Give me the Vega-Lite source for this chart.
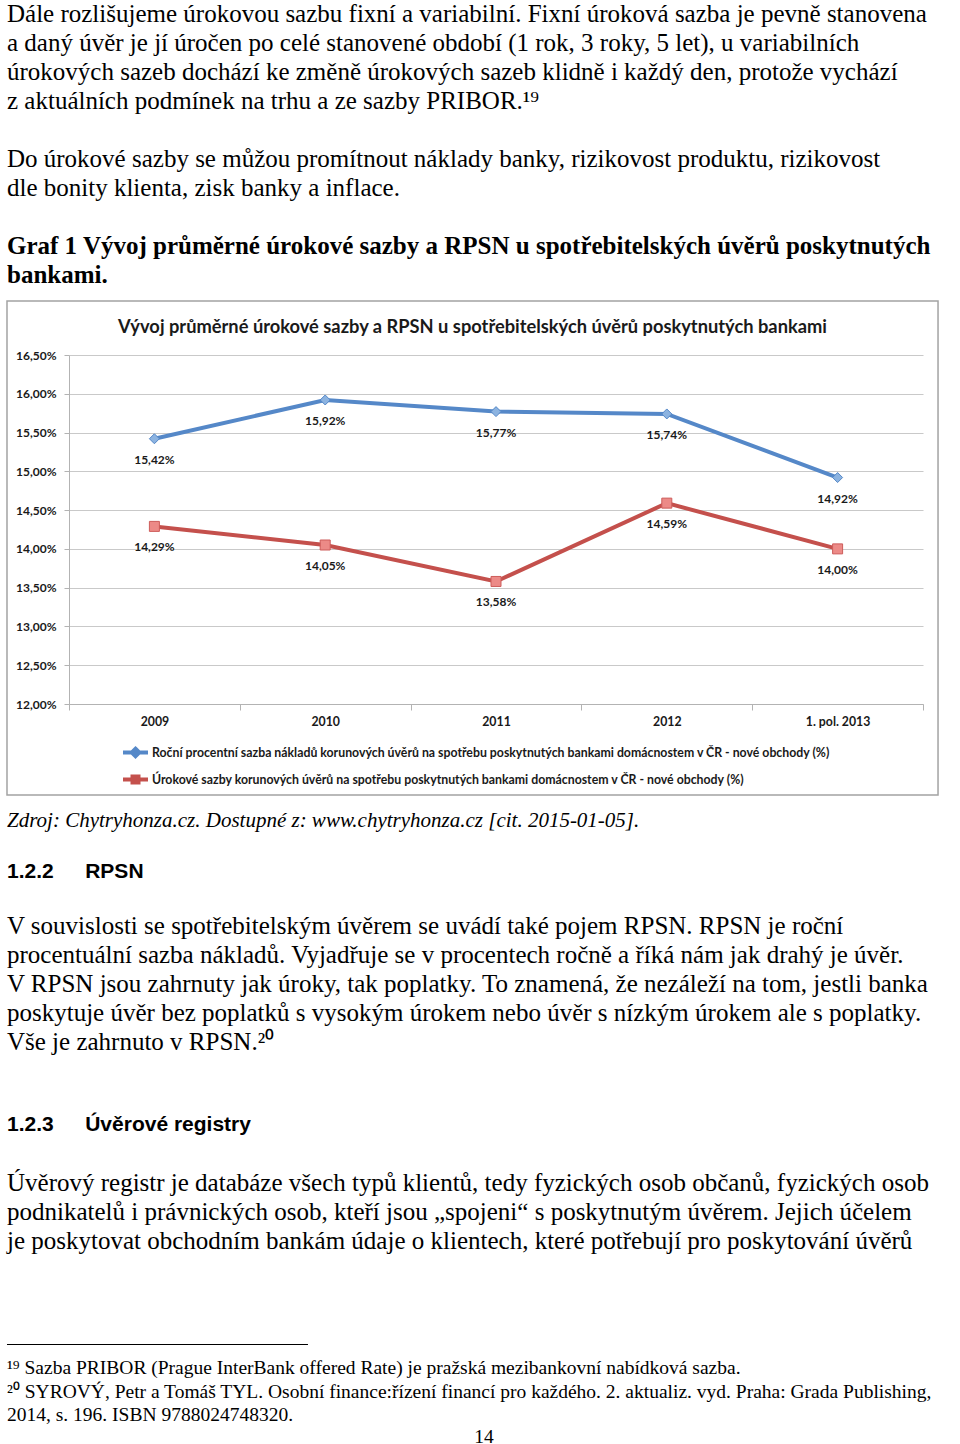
{
  "$schema": "https://vega.github.io/schema/vega-lite/v6.json",
  "padding": {"left": 6, "top": 1, "right": 0, "bottom": 0},
  "spacing": 0,
  "columns": 1,
  "align": "none",
  "background": "#ffffff",
  "resolve": {"scale": {"color": "independent", "fill": "independent", "stroke": "independent", "shape": "independent"}},
  "config": {
    "view": {"stroke": null},
    "locale": {"number": {"decimal": ",", "thousands": "\u00a0", "grouping": [3], "currency": ["", "\u00a0Kč"]}}
  },
  "datasets": {
    "top": [
      {"row": 0, "kind": "body", "text": "Dále rozlišujeme úrokovou sazbu fixní a variabilní. Fixní úroková sazba je pevně stanovena"},
      {"row": 1, "kind": "body", "text": "a daný úvěr je jí úročen po celé stanovené období (1 rok, 3 roky, 5 let), u variabilních"},
      {"row": 2, "kind": "body", "text": "úrokových sazeb dochází ke změně úrokových sazeb klidně i každý den, protože vychází"},
      {"row": 3, "kind": "body", "text": "z aktuálních podmínek na trhu a ze sazby PRIBOR.¹⁹"},
      {"row": 5, "kind": "body", "text": "Do úrokové sazby se můžou promítnout náklady banky, rizikovost produktu, rizikovost"},
      {"row": 6, "kind": "body", "text": "dle bonity klienta, zisk banky a inflace."},
      {"row": 8, "kind": "caption", "text": "Graf 1 Vývoj průměrné úrokové sazby a RPSN u spotřebitelských úvěrů poskytnutých"},
      {"row": 9, "kind": "caption", "text": "bankami."}
    ],
    "rates": [
      {"idx": 0, "period": "2009", "series": "Roční procentní sazba nákladů korunových úvěrů na spotřebu poskytnutých bankami domácnostem v ČR - nové obchody (%)", "rate": 0.1542},
      {"idx": 1, "period": "2010", "series": "Roční procentní sazba nákladů korunových úvěrů na spotřebu poskytnutých bankami domácnostem v ČR - nové obchody (%)", "rate": 0.1592},
      {"idx": 2, "period": "2011", "series": "Roční procentní sazba nákladů korunových úvěrů na spotřebu poskytnutých bankami domácnostem v ČR - nové obchody (%)", "rate": 0.1577},
      {"idx": 3, "period": "2012", "series": "Roční procentní sazba nákladů korunových úvěrů na spotřebu poskytnutých bankami domácnostem v ČR - nové obchody (%)", "rate": 0.1574},
      {"idx": 4, "period": "1. pol. 2013", "series": "Roční procentní sazba nákladů korunových úvěrů na spotřebu poskytnutých bankami domácnostem v ČR - nové obchody (%)", "rate": 0.1492},
      {"idx": 0, "period": "2009", "series": "Úrokové sazby korunových úvěrů na spotřebu poskytnutých bankami domácnostem v ČR - nové obchody (%)", "rate": 0.1429},
      {"idx": 1, "period": "2010", "series": "Úrokové sazby korunových úvěrů na spotřebu poskytnutých bankami domácnostem v ČR - nové obchody (%)", "rate": 0.1405},
      {"idx": 2, "period": "2011", "series": "Úrokové sazby korunových úvěrů na spotřebu poskytnutých bankami domácnostem v ČR - nové obchody (%)", "rate": 0.1358},
      {"idx": 3, "period": "2012", "series": "Úrokové sazby korunových úvěrů na spotřebu poskytnutých bankami domácnostem v ČR - nové obchody (%)", "rate": 0.1459},
      {"idx": 4, "period": "1. pol. 2013", "series": "Úrokové sazby korunových úvěrů na spotřebu poskytnutých bankami domácnostem v ČR - nové obchody (%)", "rate": 0.1400}
    ],
    "bottom": [
      {"row": 0, "kind": "source", "text": "Zdroj: Chytryhonza.cz. Dostupné z: www.chytryhonza.cz [cit. 2015-01-05]."},
      {"row": 1.759, "kind": "heading", "text": "1.2.2\u2003\u2002RPSN"},
      {"row": 3.621, "kind": "body", "text": "V souvislosti se spotřebitelským úvěrem se uvádí také pojem RPSN. RPSN je roční"},
      {"row": 4.621, "kind": "body", "text": "procentuální sazba nákladů. Vyjadřuje se v procentech ročně a říká nám jak drahý je úvěr."},
      {"row": 5.621, "kind": "body", "text": "V RPSN jsou zahrnuty jak úroky, tak poplatky. To znamená, že nezáleží na tom, jestli banka"},
      {"row": 6.621, "kind": "body", "text": "poskytuje úvěr bez poplatků s vysokým úrokem nebo úvěr s nízkým úrokem ale s poplatky."},
      {"row": 7.621, "kind": "body", "text": "Vše je zahrnuto v RPSN.²⁰"},
      {"row": 10.483, "kind": "heading", "text": "1.2.3\u2003\u2002Úvěrové registry"},
      {"row": 12.483, "kind": "body", "text": "Úvěrový registr je databáze všech typů klientů, tedy fyzických osob občanů, fyzických osob"},
      {"row": 13.483, "kind": "body", "text": "podnikatelů i právnických osob, kteří jsou „spojeni“ s poskytnutým úvěrem. Jejich účelem"},
      {"row": 14.483, "kind": "body", "text": "je poskytovat obchodním bankám údaje o klientech, které potřebují pro poskytování úvěrů"},
      {"row": 18.069, "kind": "separator", "text": ""},
      {"row": 18.862, "kind": "footnote", "text": "¹⁹ Sazba PRIBOR (Prague InterBank offered Rate) je pražská mezibankovní nabídková sazba."},
      {"row": 19.69, "kind": "footnote", "text": "²⁰ SYROVÝ, Petr a Tomáš TYL. Osobní finance:řízení financí pro každého. 2. aktualiz. vyd. Praha: Grada Publishing,"},
      {"row": 20.483, "kind": "footnote", "text": "2014, s. 196. ISBN 9788024748320."},
      {"row": 21.25, "kind": "page", "text": "14"}
    ]
  },
  "concat": [
    {
      "width": 892,
      "height": 296.5,
      "data": {"name": "top"},
      "encoding": {
        "y": {"field": "row", "type": "quantitative", "scale": {"domain": [-0.3793, 9.8448], "reverse": true}, "axis": null},
        "x": {"datum": 0, "type": "quantitative", "scale": {"domain": [0.065, 1]}, "axis": null},
        "text": {"field": "text"}
      },
      "layer": [
        {"transform": [{"filter": "datum.kind === 'body'"}], "mark": {"type": "text", "align": "left", "baseline": "middle", "font": "Liberation Serif", "fontSize": 25, "fill": "#000000"}},
        {"transform": [{"filter": "datum.kind === 'caption'"}], "mark": {"type": "text", "align": "left", "baseline": "middle", "font": "Liberation Serif", "fontSize": 25, "fontWeight": "bold", "fill": "#000000"}}
      ]
    },
    {
      "width": 854,
      "height": 349,
      "title": {"text": "Vývoj průměrné úrokové sazby a RPSN u spotřebitelských úvěrů poskytnutých bankami", "font": "Lato", "fontSize": 18.3, "fontWeight": "bold", "color": "#1a1a1a", "frame": "bounds", "anchor": "middle", "offset": -37},
      "layer": [
        {
          "data": {"values": [{"frame": "chart"}]},
          "mark": {"type": "rect", "clip": false, "fillOpacity": 0, "fill": "#ffffff", "stroke": "#a3a3a3", "strokeWidth": 1.5, "strokeOpacity": 1},
          "encoding": {
            "x": {"datum": -0.863, "type": "quantitative", "title": null, "scale": {"domain": [-0.5, 4.5], "nice": false, "zero": false},
              "axis": {"values": [-0.5, 0, 0.5, 1, 1.5, 2, 2.5, 3, 3.5, 4, 4.5], "labelExpr": "datum.value % 1 === 0 ? ['2009','2010','2011','2012','1. pol. 2013'][datum.value] : ''", "title": null, "grid": false, "domainColor": "#b3b3b3", "tickColor": "#b3b3b3", "tickSize": 6, "tickOpacity": {"condition": {"test": "datum.value % 1 === 0", "value": 0}, "value": 1}, "labelPadding": 5, "labelFont": "Lato", "labelFontWeight": "bold", "labelFontSize": 12.3, "labelColor": "#1a1a1a", "labelOverlap": false, "labelFlush": false, "labelBound": false}},
            "x2": {"datum": 4.588},
            "y": {"datum": 0.171963, "type": "quantitative", "title": null, "scale": {"domain": [0.12, 0.165], "nice": false, "zero": false},
              "axis": {"values": [0.12, 0.125, 0.13, 0.135, 0.14, 0.145, 0.15, 0.155, 0.16, 0.165], "format": ".2%", "title": null, "grid": true, "gridColor": "#c9c9c9", "domainColor": "#b3b3b3", "tickColor": "#b3b3b3", "tickSize": 5, "labelPadding": 8, "labelFont": "Lato", "labelFontWeight": "bold", "labelFontSize": 12, "labelColor": "#1a1a1a", "labelOverlap": false}},
            "y2": {"datum": 0.108267}
          }
        },
        {
          "data": {"name": "rates"},
          "encoding": {
            "x": {"field": "idx", "type": "quantitative", "title": null, "scale": {"domain": [-0.5, 4.5], "nice": false, "zero": false},
              "axis": {"values": [-0.5, 0, 0.5, 1, 1.5, 2, 2.5, 3, 3.5, 4, 4.5], "labelExpr": "datum.value % 1 === 0 ? ['2009','2010','2011','2012','1. pol. 2013'][datum.value] : ''", "title": null, "grid": false, "domainColor": "#b3b3b3", "tickColor": "#b3b3b3", "tickSize": 6, "tickOpacity": {"condition": {"test": "datum.value % 1 === 0", "value": 0}, "value": 1}, "labelPadding": 5, "labelFont": "Lato", "labelFontWeight": "bold", "labelFontSize": 12.3, "labelColor": "#1a1a1a", "labelOverlap": false, "labelFlush": false, "labelBound": false}},
            "y": {"field": "rate", "type": "quantitative", "title": null, "scale": {"domain": [0.12, 0.165], "nice": false, "zero": false},
              "axis": {"values": [0.12, 0.125, 0.13, 0.135, 0.14, 0.145, 0.15, 0.155, 0.16, 0.165], "format": ".2%", "title": null, "grid": true, "gridColor": "#c9c9c9", "domainColor": "#b3b3b3", "tickColor": "#b3b3b3", "tickSize": 5, "labelPadding": 8, "labelFont": "Lato", "labelFontWeight": "bold", "labelFontSize": 12, "labelColor": "#1a1a1a", "labelOverlap": false}}
          },
          "layer": [
            {
              "mark": {"type": "line", "strokeWidth": 4},
              "encoding": {
                "color": {"field": "series", "type": "nominal",
                  "scale": {"domain": ["Roční procentní sazba nákladů korunových úvěrů na spotřebu poskytnutých bankami domácnostem v ČR - nové obchody (%)", "Úrokové sazby korunových úvěrů na spotřebu poskytnutých bankami domácnostem v ČR - nové obchody (%)"], "range": ["#5588c8", "#c4504c"]},
                  "legend": {"orient": "none", "legendX": 52, "legendY": 383, "direction": "vertical", "title": null, "symbolType": "M-1,0H1", "symbolSize": 625, "symbolStrokeWidth": 4, "labelLimit": 0, "labelFont": "Lato", "labelFontWeight": "bold", "labelFontSize": 12.3, "labelColor": "#1a1a1a", "labelOffset": 2, "rowPadding": 0,
                    "encode": {"symbols": {"update": {
                      "shape": {"signal": "datum.index === 0 ? 'M-1,0H1M0,-0.3L0.3,0L0,0.3L-0.3,0Z' : 'M-1,0H1M-0.24,-0.24H0.24V0.24H-0.24Z'"},
                      "fill": {"signal": "datum.index === 0 ? '#8cb3e0' : '#ec8a87'"}
                    }}}}
                }
              }
            },
            {
              "mark": {"type": "point", "filled": true, "size": 100, "strokeWidth": 1, "opacity": 1},
              "encoding": {
                "shape": {"field": "series", "type": "nominal", "scale": {"range": ["diamond", "square"]}, "legend": null},
                "fill": {"field": "series", "type": "nominal", "scale": {"range": ["#8cb3e0", "#ec8a87"]}, "legend": null},
                "stroke": {"field": "series", "type": "nominal", "scale": {"range": ["#5588c8", "#cd5c5a"]}, "legend": null}
              }
            },
            {
              "mark": {"type": "text", "dy": 21, "font": "Lato", "fontWeight": "bold", "fontSize": 12, "fill": "#1a1a1a"},
              "encoding": {"text": {"field": "rate", "type": "quantitative", "format": ".2%"}}
            }
          ]
        }
      ]
    },
    {
      "width": 892,
      "height": 650.5,
      "data": {"name": "bottom"},
      "encoding": {
        "y": {"field": "row", "type": "quantitative", "scale": {"domain": [-0.845, 21.586], "reverse": true}, "axis": null}
      },
      "layer": [
        {"transform": [{"filter": "datum.kind === 'source'"}], "mark": {"type": "text", "align": "left", "baseline": "middle", "font": "Liberation Serif", "fontSize": 21, "fontStyle": "italic", "fill": "#000000"},
          "encoding": {"x": {"datum": 0, "type": "quantitative", "scale": {"domain": [0.065, 1]}, "axis": null}, "text": {"field": "text"}}},
        {"transform": [{"filter": "datum.kind === 'heading'"}], "mark": {"type": "text", "align": "left", "baseline": "middle", "font": "Liberation Sans", "fontSize": 21, "fontWeight": "bold", "fill": "#000000"},
          "encoding": {"x": {"datum": 0, "type": "quantitative", "scale": {"domain": [0.065, 1]}, "axis": null}, "text": {"field": "text"}}},
        {"transform": [{"filter": "datum.kind === 'body'"}], "mark": {"type": "text", "align": "left", "baseline": "middle", "font": "Liberation Serif", "fontSize": 25, "fill": "#000000"},
          "encoding": {"x": {"datum": 0, "type": "quantitative", "scale": {"domain": [0.065, 1]}, "axis": null}, "text": {"field": "text"}}},
        {"transform": [{"filter": "datum.kind === 'footnote'"}], "mark": {"type": "text", "align": "left", "baseline": "middle", "font": "Liberation Serif", "fontSize": 19.5, "fill": "#000000"},
          "encoding": {"x": {"datum": 0, "type": "quantitative", "scale": {"domain": [0.065, 1]}, "axis": null}, "text": {"field": "text"}}},
        {"transform": [{"filter": "datum.kind === 'page'"}], "mark": {"type": "text", "align": "center", "baseline": "middle", "font": "Liberation Serif", "fontSize": 19.5, "fill": "#000000"},
          "encoding": {"x": {"datum": 0.5, "type": "quantitative", "scale": {"domain": [0.065, 1]}, "axis": null}, "text": {"field": "text"}}},
        {"transform": [{"filter": "datum.kind === 'separator'"}], "mark": {"type": "rule", "stroke": "#000000", "strokeWidth": 1},
          "encoding": {"x": {"datum": 0, "type": "quantitative", "scale": {"domain": [0.065, 1]}, "axis": null}, "x2": {"datum": 0.3155}}}
      ]
    }
  ]
}
